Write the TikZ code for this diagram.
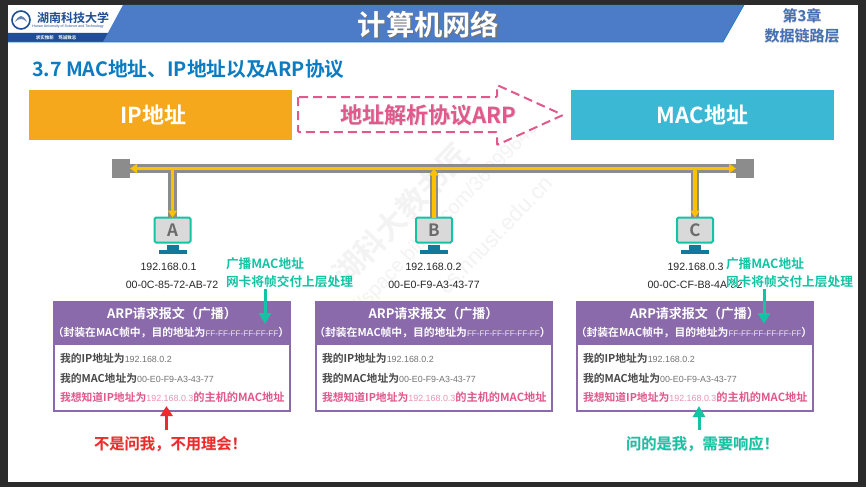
\documentclass[tikz,border=0pt]{standalone}
\usepackage{fontspec}
\setmainfont{Noto Sans CJK SC}
\newfontfamily\arialf{Liberation Sans}
\newfontfamily\glowf[FakeBold=3]{Noto Sans CJK SC Bold}
\newfontfamily\boldf{Noto Sans CJK SC Bold}
\usetikzlibrary{arrows.meta}
\definecolor{frame}{HTML}{2B2B2B}
\definecolor{band}{HTML}{4C7BC8}
\definecolor{navy}{HTML}{1F4E96}
\definecolor{headblue}{HTML}{0B7CC2}
\definecolor{ipbox}{HTML}{F5A81C}
\definecolor{macbox}{HTML}{3BB8D3}
\definecolor{arppink}{HTML}{E0588C}
\definecolor{busgray}{HTML}{8C8C8C}
\definecolor{busyellow}{HTML}{FFC000}
\definecolor{teal}{HTML}{12C4A4}
\definecolor{stand}{HTML}{13799A}
\definecolor{purp}{HTML}{8A6AAA}
\definecolor{arpred}{HTML}{F02A2A}
\definecolor{wm}{HTML}{F3F3F3}
\definecolor{darktxt}{HTML}{4A4A4A}
\newcommand{\fwc}{^^^^ff0c}
\newcommand{\fwl}{^^^^ff08}
\newcommand{\fwr}{^^^^ff09}
\newcommand{\fwx}{^^^^ff01}
\tikzset{
  x=1pt,y=-1pt,
  every node/.style={inner sep=0pt,outer sep=0pt},
  boxtext/.style={text=white,font=\boldf\fontsize{22}{24}\selectfont},
  busline/.style={draw=busgray,line width=8.6pt},
  busarrow/.style={draw=busyellow,line width=3.2pt,-{Triangle[length=7pt,width=9pt]}},
  sq/.style={fill=busgray,minimum width=18pt,minimum height=19pt},
  mon/.style={draw=teal,fill=black!15,line width=2pt,rounded corners=1.5pt,minimum width=36pt,minimum height=25pt,text=black!58,font=\boldf\fontsize{17}{17}\selectfont},
  addr/.style={font=\arialf\fontsize{10.6}{12}\selectfont,text=black!85},
  tlabel/.style={text=teal,anchor=west,font=\boldf\fontsize{12.7}{14}\selectfont},
  tglow/.style={text=white,anchor=west,font=\glowf\fontsize{12.7}{14}\selectfont},
  pkt/.style={fill=purp},
  inner/.style={fill=white},
  ptitle/.style={text=white,font=\boldf\fontsize{13}{15}\selectfont},
  psub/.style={text=white,font=\boldf\fontsize{10.8}{12}\selectfont},
  pline/.style={anchor=west,text=darktxt,font=\boldf\fontsize{10.8}{12}\selectfont},
  ppink/.style={anchor=west,text=arppink,font=\boldf\fontsize{10.8}{12}\selectfont},
  tealarrow/.style={draw=teal,line width=3pt,-{Triangle[length=11pt,width=12pt]}},
  redarrow/.style={draw=arpred,line width=3pt,-{Triangle[length=10pt,width=12pt]}},
  wmark/.style={text=wm,rotate=46},
}
\newcommand{\arnum}[3]{{\color{#1}\arialf\fontsize{#2}{12}\selectfont #3}}
\newcommand{\packet}[3]{% name, left x, centre x
  \node[pkt,anchor=north west,minimum width=238pt,minimum height=111pt] (#1box) at (#2,301) {};
  \node[inner,anchor=north west,minimum width=234pt,minimum height=65pt] (#1in) at (#2+2,345) {};
  \node[ptitle] (#1t) at (#3,314) {ARP请求报文\fwl 广播\fwr};
  \node[psub] (#1s) at (#3-1,333) {\fwl 封装在MAC帧中\fwc 目的地址为\arnum{white!85!purp}{8.1}{FF-FF-FF-FF-FF-FF}\fwr};
  \node[pline] (#1a) at (#2+7,358) {我的IP地址为\arnum{black!55}{8.9}{192.168.0.2}};
  \node[pline] (#1b) at (#2+7,378) {我的MAC地址为\arnum{black!55}{8.9}{00-E0-F9-A3-43-77}};
  \node[ppink] (#1c) at (#2+7,397) {我想知道IP地址为\arnum{arppink!65}{8.9}{192.168.0.3}{\fontsize{11.2}{12}\selectfont 的主机的MAC地址}};
}
\begin{document}
\begin{tikzpicture}
\useasboundingbox (0,0) rectangle (866,487);
\fill[frame] (0,0) rectangle (866,487);
\fill[white] (8,5) rectangle (858,482);
% watermark
\node[wmark,font=\boldf\fontsize{30}{30}\selectfont] (w1) at (401,214) {湖科大教书匠};
\node[wmark,font=\arialf\fontsize{20}{20}\selectfont] (w2) at (433,231) {https://space.bilibili.com/360996402};
\node[wmark,font=\arialf\fontsize{22}{22}\selectfont] (w3) at (495,235) {cs.hnust.edu.cn};
% header
\fill[band] (123,5) -- (744,5) -- (723,42) -- (103,42) -- cycle;
\fill[navy] (8,33) -- (108,33) -- (103,42) -- (8,42) -- cycle;
\draw[headblue,line width=.6pt] (8,42) -- (723,42) -- (744,5);
\draw[navy,line width=1.6pt] (21,20) circle (9);
\fill[navy!70] (15,22) .. controls (19,14) and (23,14) .. (27,22) .. controls (23,18) and (19,18) .. (15,22);
\node[text=navy,font=\boldf\fontsize{12}{12}\selectfont] (logo) at (73,18) {湖南科技大学};
\node[text=navy,font=\arialf\fontsize{3.6}{4}\selectfont] (logoen) at (68,27) {Hunan University of Science and Technology};
\node[text=white,font=\boldf\fontsize{4.5}{5}\selectfont] (motto) at (56,38) {求实惟新\quad 笃诚致志};
\node[text=black!55,font=\boldf\fontsize{28.3}{30}\selectfont] (titles) at (429.7,25.8) {计算机网络};
\node[text=white,font=\boldf\fontsize{28.3}{30}\selectfont] (title) at (428.5,24.5) {计算机网络};
\node[text=black!12,font=\glowf\fontsize{15}{16}\selectfont] (ch1g) at (802,16) {第3章};
\node[text=band!90!black,font=\boldf\fontsize{15}{16}\selectfont] (ch1) at (802,16) {第3章};
\node[text=black!12,font=\glowf\fontsize{15}{16}\selectfont] (ch2g) at (802,36) {数据链路层};
\node[text=band!90!black,font=\boldf\fontsize{15}{16}\selectfont] (ch2) at (802,36) {数据链路层};
\node[anchor=west,text=headblue,font=\boldf\fontsize{19.7}{22}\selectfont] (head) at (32,69) {3.7 MAC地址、IP地址以及ARP协议};
% top boxes
\node[fill=ipbox,minimum width=263pt,minimum height=50pt] (ip) at (160.5,115) {};
\node[boxtext] (iptext) at (153.5,115) {IP地址};
\node[fill=macbox,minimum width=263pt,minimum height=50pt,boxtext] (mac) at (702.5,115) {MAC地址};
\draw[arppink,line width=2pt,dash pattern=on 9pt off 5pt,rounded corners=1pt,fill=white]
  (298,97) -- (497,97) -- (497,85) -- (563,115) -- (497,145) -- (497,132) -- (298,132) -- cycle;
\node[text=black!12,font=\glowf\fontsize{22}{24}\selectfont] (arpg) at (428.5,115) {地址解析协议ARP};
\node[text=arppink,font=\boldf\fontsize{22}{24}\selectfont] (arp) at (428.5,115) {地址解析协议ARP};
% bus
\node[sq] (sl) at (121,168.5) {};
\node[sq] (sr) at (745,168.5) {};
\node[mon] (A) at (172.5,230) {A};
\node[mon] (B) at (434,230) {B};
\node[mon] (C) at (695,230) {C};
\foreach \x in {172.5,434,695}{
  \fill[stand] (\x-6,245) rectangle (\x+6,250);
  \fill[stand] (\x-14,250) rectangle (\x+14,254);
}
\coordinate (ja) at (172.5,168.5);
\coordinate (jb) at (434,168.5);
\coordinate (jc) at (695,168.5);
\draw[busline] (sl.east) -- (sr.west);
\draw[busline] (ja) -- (A.north);
\draw[busline] (jb) -- (B.north);
\draw[busline] (jc) -- (C.north);
\draw[busarrow] (jb) -- (sl.east);
\draw[busarrow] (jb) -- (sr.west);
\draw[busarrow] (ja) -- (A.north);
\draw[busarrow] (jc) -- (C.north);
\draw[busarrow] (B.north) -- (jb);
% addresses
\node[addr] (ipa) at (168.5,267) {192.168.0.1};
\node[addr] (maca) at (172,285) {00-0C-85-72-AB-72};
\node[addr] (ipb) at (433.5,267) {192.168.0.2};
\node[addr] (macb) at (434,285) {00-E0-F9-A3-43-77};
\node[addr] (ipc) at (695.5,267) {192.168.0.3};
\node[addr] (macc) at (695,285) {00-0C-CF-B8-4A-82};
% packets
\packet{pa}{53}{172}
\packet{pb}{315}{433.5}
\packet{pc}{576}{695}
% teal labels
\node[tglow] (l1g) at (226,264) {广播MAC地址};
\node[tlabel] (l1) at (226,264) {广播MAC地址};
\node[tglow] (l2g) at (226,281.5) {网卡将帧交付上层处理};
\node[tlabel] (l2) at (226,281.5) {网卡将帧交付上层处理};
\node[tglow] (l3g) at (726,264) {广播MAC地址};
\node[tlabel] (l3) at (726,264) {广播MAC地址};
\node[tglow] (l4g) at (726,281.5) {网卡将帧交付上层处理};
\node[tlabel] (l4) at (726,281.5) {网卡将帧交付上层处理};
\coordinate (ta) at (265,324);
\coordinate (tc) at (764,324);
\draw[tealarrow] (l2.south -| ta) ++(0,1) -- (ta);
\draw[tealarrow] (l4.south -| tc) ++(0,1) -- (tc);
% responses
\node[text=black!10,font=\glowf\fontsize{15.3}{16}\selectfont] (noG) at (170.5,444) {不是问我\fwc 不用理会\fwx};
\node[text=arpred,font=\boldf\fontsize{15.3}{16}\selectfont] (no) at (170.5,444) {不是问我\fwc 不用理会\fwx};
\node[text=black!10,font=\glowf\fontsize{15.3}{16}\selectfont] (yesG) at (702.5,444) {问的是我\fwc 需要响应\fwx};
\node[text=teal,font=\boldf\fontsize{15.3}{16}\selectfont] (yes) at (702.5,444) {问的是我\fwc 需要响应\fwx};
\coordinate (ra) at (166.5,430);
\coordinate (rb) at (166.5,406);
\coordinate (ya) at (699,430);
\coordinate (yb) at (699,406);
\draw[redarrow] (ra) -- (rb);
\draw[tealarrow] (ya) -- (yb);
\end{tikzpicture}
\end{document}
